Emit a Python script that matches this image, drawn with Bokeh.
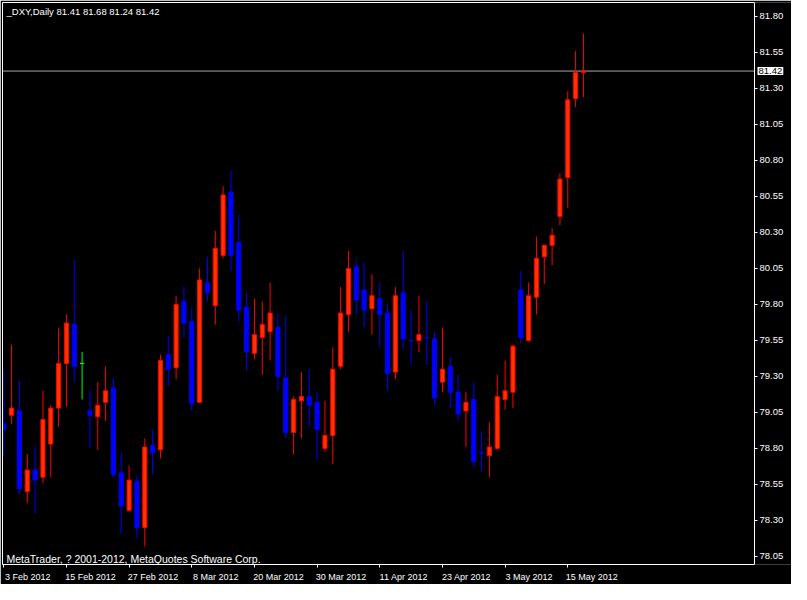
from bokeh.plotting import figure
from bokeh.models import (ColumnDataSource, FixedTicker, Label, PrintfTickFormatter,
                          Range1d, LinearAxis)
from bokeh.embed import file_html
from bokeh.resources import INLINE

# ---------------- data ----------------
title_text = "_DXY,Daily  81.41 81.68 81.24 81.42"
copyright_text = "MetaTrader, ? 2001-2012, MetaQuotes Software Corp."

opens = [78.97, 79.03, 79.06, 78.50, 78.65, 78.60, 78.83, 79.08, 79.39, 79.66,
         79.39, 79.06, 79.02, 79.12, 79.22, 78.63, 78.37, 78.57, 78.25, 78.82,
         78.79, 79.45, 79.36, 79.82, 79.68, 79.12, 79.95, 79.79, 80.14, 80.58,
         80.23, 79.78, 79.46, 79.57, 79.61, 79.64, 79.29, 78.91, 79.13, 79.16,
         79.12, 78.80, 78.89, 79.37, 79.73, 80.06, 79.90, 79.77, 79.84, 79.74,
         79.33, 79.88, 79.55, 79.55, 79.57, 79.56, 79.26, 79.37, 79.19, 79.06,
         79.14, 78.77, 78.75, 78.80, 79.14, 79.19, 79.90, 79.55, 79.85, 80.13,
         80.21, 80.41, 80.68, 81.23, 81.41]
highs = [79.35, 79.52, 79.27, 78.76, 78.81, 79.20, 79.10, 79.64, 79.73, 80.11,
         79.47, 79.20, 79.26, 79.37, 79.29, 78.77, 78.68, 78.61, 78.87, 78.93,
         79.45, 79.58, 79.86, 79.92, 79.78, 80.05, 80.13, 80.31, 80.62, 80.73,
         80.42, 79.88, 79.84, 79.82, 79.95, 79.74, 79.72, 79.16, 79.33, 79.35,
         79.19, 79.13, 79.50, 79.92, 80.17, 80.11, 80.09, 80.01, 79.95, 79.80,
         79.92, 80.17, 79.76, 79.86, 79.82, 79.61, 79.64, 79.43, 79.31, 79.19,
         79.26, 78.92, 78.98, 79.31, 79.41, 79.52, 80.03, 79.95, 80.27, 80.21,
         80.33, 80.71, 81.28, 81.56, 81.68]
lows = [78.74, 78.97, 78.48, 78.42, 78.35, 78.56, 78.60, 78.95, 79.09, 79.26,
        79.14, 78.80, 78.79, 78.99, 78.60, 78.21, 78.36, 78.18, 78.12, 78.62,
        78.73, 79.23, 79.28, 79.57, 79.06, 79.12, 79.82, 79.66, 80.12, 80.03,
        79.68, 79.34, 79.42, 79.31, 79.41, 79.20, 78.87, 78.76, 78.87, 78.95,
        78.72, 78.78, 78.69, 79.35, 79.61, 79.73, 79.64, 79.59, 79.50, 79.20,
        79.28, 79.49, 79.38, 79.47, 79.38, 79.10, 79.19, 79.08, 78.99, 78.81,
        78.67, 78.64, 78.60, 78.79, 79.07, 79.08, 79.53, 79.54, 79.73, 79.94,
        80.07, 80.35, 80.47, 81.17, 81.24]
closes = [78.93, 79.08, 78.52, 78.65, 78.58, 79.00, 79.08, 79.39, 79.67, 79.37,
          79.39, 79.03, 79.10, 79.20, 78.62, 78.40, 78.58, 78.25, 78.81, 78.77,
          79.41, 79.35, 79.80, 79.67, 79.11, 79.97, 79.88, 80.19, 80.56, 80.14,
          79.76, 79.47, 79.59, 79.66, 79.74, 79.30, 78.91, 79.14, 79.16, 79.10,
          78.93, 78.89, 79.35, 79.74, 80.05, 79.83, 79.76, 79.86, 79.73, 79.32,
          79.86, 79.56, 79.549, 79.59, 79.569, 79.15, 79.35, 79.19, 79.04, 79.12,
          78.71, 78.769, 78.81, 79.16, 79.20, 79.51, 79.57, 79.86, 80.12, 80.21,
          80.28, 80.67, 81.22, 81.41, 81.42]

date_labels = ["3 Feb 2012", "15 Feb 2012", "27 Feb 2012", "8 Mar 2012", "20 Mar 2012",
               "30 Mar 2012", "11 Apr 2012", "23 Apr 2012", "3 May 2012", "15 May 2012"]
date_label_bars = [0, 8, 16, 24, 32, 40, 48, 56, 64, 72]

price_ticks = [78.05, 78.30, 78.55, 78.80, 79.05, 79.30, 79.55, 79.80,
               80.05, 80.30, 80.55, 80.80, 81.05, 81.30, 81.55, 81.80]
last_price = 81.42

# ---------------- styling ----------------
BULL_FILL = "#FF3300"
BULL_LINE = "#FF0000"
BEAR = "#0000FF"
DOJI = "#00FF00"
FONT = "Liberation Sans"
FSIZE = "9.5px"

W, H = 791, 584
BORDER_L, BORDER_T, BORDER_B = 2, 2, 17
AXIS_PX = 752                 # chart area width up to the price axis
X0, X1 = -0.1625, 95.8375     # bars shown left of the price axis
X_END = X0 + (X1 - X0) * (W - BORDER_L) / AXIS_PX   # frame runs under the price labels
Y0, Y1 = 77.994, 81.896
LABEL_SHIFT = 3.0625          # date labels start at their tick (in bars)

n = len(opens)
idx = list(range(n))
fills, lines = [], []
for o, c in zip(opens, closes):
    if c > o:
        fills.append(BULL_FILL); lines.append(BULL_LINE)
    elif c < o:
        fills.append(BEAR); lines.append(BEAR)
    else:
        fills.append(DOJI); lines.append(DOJI)

src = ColumnDataSource(dict(
    x=idx,
    top=[max(o, c) for o, c in zip(opens, closes)],
    bottom=[min(o, c) for o, c in zip(opens, closes)],
    high=highs, low=lows, fill=fills, line=lines,
))

p = figure(width=W, height=H, output_backend="svg", toolbar_location=None,
           x_range=Range1d(X0, X_END), y_range=Range1d(Y0, Y1),
           y_axis_location=None, x_axis_location=None,
           min_border_left=BORDER_L, min_border_top=BORDER_T, min_border_right=0,
           min_border_bottom=BORDER_B,
           background_fill_color="black", border_fill_color="black",
           outline_line_color=None)
p.grid.visible = False

# last price line (stops at the price axis)
p.segment(x0=[X0], y0=[last_price], x1=[X1], y1=[last_price], line_color="#A8A8A8", line_width=1)

# wicks and bodies
p.segment(x0="x", y0="low", x1="x", y1="high", line_color="line", line_width=1, source=src)
p.vbar(x="x", top="top", bottom="bottom", width=0.52, fill_color="fill",
       line_color="line", line_width=1, source=src)

# frame lines: left and top, as bare axes
la = LinearAxis(ticker=FixedTicker(ticks=[]), axis_line_color="white",
                major_tick_line_color=None, minor_tick_line_color=None,
                major_tick_out=0, major_tick_in=0, major_label_text_color=None)
p.add_layout(la, "left")
ta = LinearAxis(ticker=FixedTicker(ticks=[]), axis_line_color="white", bounds=(X0, X1),
                major_tick_line_color=None, minor_tick_line_color=None,
                major_tick_out=0, major_tick_in=0, major_label_text_color=None)
p.add_layout(ta, "above")

# x axis: labels on a shifted range so that they start at their tick;
# the tick marks themselves are drawn as minor ticks at the bars
p.extra_x_ranges = {"lbl": Range1d(X0 - LABEL_SHIFT, X_END - LABEL_SHIFT)}
xa = LinearAxis(x_range_name="lbl", bounds=(X0 - LABEL_SHIFT, X1 - LABEL_SHIFT),
                ticker=FixedTicker(ticks=date_label_bars,
                                   minor_ticks=[b - LABEL_SHIFT for b in date_label_bars]),
                major_label_overrides={b: t for b, t in zip(date_label_bars, date_labels)})
xa.axis_line_color = "white"
xa.major_tick_line_color = None
xa.major_tick_out = 0
xa.major_tick_in = 0
xa.minor_tick_line_color = "white"
xa.minor_tick_out = 3
xa.minor_tick_in = 0
xa.major_label_standoff = 4
xa.major_label_text_color = "white"
xa.major_label_text_font = FONT
xa.major_label_text_font_size = "9px"
p.add_layout(xa, "below")

# price axis, fixed at the right end of the bars (takes no layout space)
ya = LinearAxis(fixed_location=X1, ticker=FixedTicker(ticks=price_ticks),
                formatter=PrintfTickFormatter(format="%.2f"))
ya.axis_line_color = "white"
ya.major_tick_line_color = "white"
ya.major_tick_out = 3
ya.major_tick_in = 0
ya.minor_tick_line_color = None
ya.major_label_standoff = 2
ya.major_label_text_color = "white"
ya.major_label_text_font = FONT
ya.major_label_text_font_size = FSIZE
p.add_layout(ya, "right")

# highlighted last price on the axis
p.add_layout(Label(x=X1, y=last_price, x_offset=3, y_offset=0, text=f"{last_price:.2f}",
                   text_align="left", text_baseline="middle",
                   text_color="black", text_font=FONT, text_font_size=FSIZE,
                   background_fill_color="white", padding=1))

# title and copyright
p.add_layout(Label(x=X0, y=Y1, x_offset=4, y_offset=-3, text=title_text,
                   text_align="left", text_baseline="top",
                   text_color="white", text_font=FONT, text_font_size=FSIZE))
p.add_layout(Label(x=X0, y=Y0, x_offset=4, y_offset=6, text=copyright_text,
                   text_align="left", text_baseline="alphabetic",
                   text_color="white", text_font=FONT, text_font_size="10.5px"))

open("out.html", "w").write(file_html(p, INLINE))
